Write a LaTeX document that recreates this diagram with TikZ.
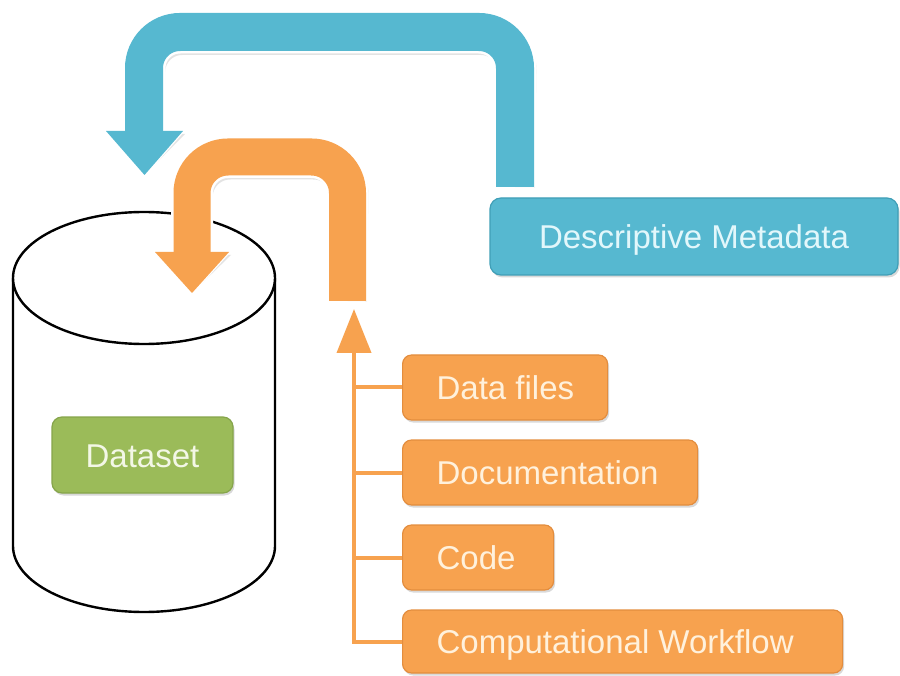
\documentclass[tikz,border=0pt]{standalone}
\usepackage{fontspec}
\setmainfont{Liberation Sans}
\usetikzlibrary{arrows.meta,shadows}
\definecolor{orangeA}{HTML}{F7A24F}
\definecolor{orangeB}{HTML}{E38D3E}
\definecolor{blueA}{HTML}{56B8D0}
\definecolor{blueB}{HTML}{409FB7}
\definecolor{greenA}{HTML}{9BBB59}
\definecolor{greenB}{HTML}{86A54B}
\definecolor{orangeT}{HTML}{FFF1DC}
\definecolor{blueT}{HTML}{E2F7FB}
\definecolor{greenT}{HTML}{F3F7E6}
\newcommand{\lefttext}[2]{\makebox[#1][l]{#2}}
\begin{document}
\begin{tikzpicture}[x=1pt,y=-1pt,
  bigfont/.style={font=\fontsize{33}{36}\selectfont},
  softshadow/.style={drop shadow={shadow xshift=1.5pt,shadow yshift=-2.5pt,opacity=0.25,fill=black!60}},
  itembox/.style={draw=orangeB, line width=1.2pt, fill=orangeA, rounded corners=9pt,
    text=orangeT, bigfont, anchor=west, inner xsep=34pt, inner ysep=0pt,
    text height=24pt, text depth=0pt, minimum height=65pt, softshadow},
  metabox/.style={draw=blueB, line width=1.2pt, fill=blueA, rounded corners=11pt,
    text=blueT, bigfont, text height=24pt, text depth=0pt, minimum width=408pt, minimum height=77pt, softshadow},
  databox/.style={draw=greenB, line width=1.2pt, fill=greenA, rounded corners=10pt,
    text=greenT, bigfont, text height=24pt, text depth=0pt, minimum width=181pt, minimum height=76pt, softshadow},
  cyl/.style={draw=black, line width=2.4pt, fill=white},
  bandshadow/.style={draw=black!50, opacity=0.22, line width=40pt, rounded corners=36pt},
  bandwhite/.style={draw=white, line width=43pt, rounded corners=36pt},
  blueband/.style={draw=blueA, line width=38pt, rounded corners=36pt},
  orangeband/.style={draw=orangeA, line width=37pt, rounded corners=36pt},
  spine/.style={draw=orangeA, line width=4pt, line join=miter},
]
\useasboundingbox (0,0) rectangle (900,676);

% cylinder
\draw[cyl] (13,278) -- (13,546) arc[start angle=180, end angle=0, x radius=131, y radius=66] -- (275,278);
\draw[cyl] (144,278) ellipse [x radius=131, y radius=66];

% dataset label
\node[databox] (ds) at (142.5,455) {Dataset};

% blue return arrow
\coordinate (bs) at (515,187);
\coordinate (be) at (144,131);
\coordinate (bt) at (144.5,175);
\begin{scope}[shift={(2,3)}]
  \draw[bandshadow] (bs) -- (515,32) -- (144,32) -- (be);
  \fill[black!50, opacity=0.22] (106,131) -- (183,131) -- (bt) -- cycle;
\end{scope}
\draw[bandwhite] (bs) -- (515,32) -- (144,32) -- (be);
\filldraw[draw=white, line width=2.5pt, fill=white] (106,131) -- (183,131) -- (bt) -- cycle;
\draw[blueband] (bs) -- (515,32) -- (144,32) -- (be);
\fill[blueA] (106,131) -- (183,131) -- (bt) -- cycle;

% orange return arrow
\coordinate (os) at (347.5,301);
\coordinate (oe) at (192,252);
\coordinate (ot) at (192,293);
\begin{scope}[shift={(2,3)}]
  \draw[bandshadow, line width=39pt] (os) -- (347.5,157) -- (192,157) -- (oe);
  \fill[black!50, opacity=0.22] (155,252) -- (229,252) -- (ot) -- cycle;
\end{scope}
\draw[bandwhite, line width=42pt] (os) -- (347.5,157) -- (192,157) -- (oe);
\filldraw[draw=white, line width=2.5pt, fill=white] (155,252) -- (229,252) -- (ot) -- cycle;
\draw[orangeband] (os) -- (347.5,157) -- (192,157) -- (oe);
\fill[orangeA] (155,252) -- (229,252) -- (ot) -- cycle;

% descriptive metadata
\node[metabox] (md) at (694,236.5) {Descriptive Metadata};

% item boxes
\node[itembox] (df) at (402,387.5) {\lefttext{137pt}{Data files}};
\node[itembox] (doc) at (402,472.5) {\lefttext{227pt}{Documentation}};
\node[itembox] (code) at (402,557.5) {\lefttext{83pt}{Code}};
\node[itembox, minimum height=63pt] (cw) at (402,641.5) {\lefttext{372pt}{Computational Workflow}};

% spine with arrow
\coordinate (st) at (354,309);
\draw[spine, -{Triangle[length=44pt,width=34pt]}] (cw.west) -| (st);
\draw[spine] (df.west) -- (df.west -| st);
\draw[spine] (doc.west) -- (doc.west -| st);
\draw[spine] (code.west) -- (code.west -| st);
\end{tikzpicture}
\end{document}
